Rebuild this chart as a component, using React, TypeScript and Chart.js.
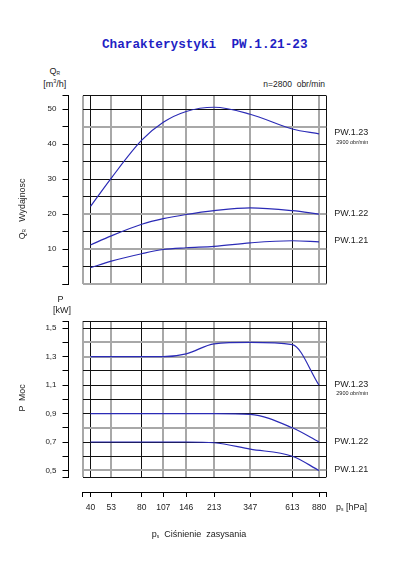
import React, { useEffect, useRef } from 'react';
import { Chart, registerables } from 'chart.js';

Chart.register(...registerables);

// suction pressure p_s [hPa] (log axis)
const pressure = [40, 53, 80, 107, 146, 213, 347, 613, 880];
const pressureMin = 35.9;
const pressureMax = 971;

const seriesNames = ['PW.1.23', 'PW.1.22', 'PW.1.21'];
const seriesNotes = ['2900 obr/min', '', ''];

// Q_R [m3/h]
const qPW123 = [22.2, 30.3, 41.1, 46.2, 49.3, 50.5, 48.5, 44.3, 42.9];
const qPW122 = [11.2, 13.8, 17.1, 18.7, 19.9, 21.0, 21.8, 21.0, 20.0];
const qPW121 = [4.7, 6.6, 8.7, 9.9, 10.4, 10.8, 11.8, 12.4, 12.1];
const qTicks = [0, 5, 10, 15, 20, 25, 30, 35, 40, 45, 50];
const qLabels = [10, 20, 30, 40, 50];
const qMin = 0;
const qMax = 53.8;

// P [kW]
const pPW123 = [1.3, 1.3, 1.3, 1.3, 1.32, 1.39, 1.4, 1.385, 1.1];
const pPW122 = [0.9, 0.9, 0.9, 0.9, 0.9, 0.9, 0.895, 0.8, 0.7];
const pPW121 = [0.7, 0.7, 0.7, 0.7, 0.7, 0.695, 0.65, 0.6, 0.5];
const pTicks = [0.5, 0.6, 0.7, 0.8, 0.9, 1.0, 1.1, 1.2, 1.3, 1.4, 1.5];
const pLabels = [0.5, 0.7, 0.9, 1.1, 1.3, 1.5];
const pMin = 0.454;
const pMax = 1.551;

// grid lines that look light grey (scan look)
const grayX = [pressureMin, 53, 107, 146, 213, 347, 880];
const grayQ = [0, 10, 20, 45];
const grayP = [0.5, 0.8, 1.3, 1.4];

const LINE = '#2b2bb6';
const TEXT = '#222';
const FONT = '"Liberation Sans", Arial, sans-serif';

const near = (a: number, b: number) => Math.abs(a - b) < 1e-6 * Math.max(1, Math.abs(b));
const inList = (v: number, list: number[]) => list.some((x) => near(v, x));

const gridColor = (list: number[]) => (c: any) => (c.tick && inList(c.tick.value, list) ? '#a8a8a8' : '#111');
const gridWidth = (list: number[]) => (c: any) => (c.tick && inList(c.tick.value, list) ? 2 : 1);

const endLabels = {
  id: 'endLabels',
  afterDatasetsDraw(chart: any) {
    const { ctx, chartArea } = chart;
    chart.data.datasets.forEach((ds: any, i: number) => {
      const meta = chart.getDatasetMeta(i);
      const pt = meta.data[meta.data.length - 1];
      if (!pt) return;
      ctx.save();
      ctx.fillStyle = TEXT;
      ctx.textBaseline = 'middle';
      ctx.textAlign = 'left';
      ctx.font = `9px ${FONT}`;
      ctx.fillText(ds.label, chartArea.right + 8, pt.y - 1);
      if (ds.note) {
        ctx.font = `5.5px ${FONT}`;
        ctx.fillText(ds.note, chartArea.right + 10, pt.y + 8.5);
      }
      ctx.restore();
    });
  },
};

interface PanelProps {
  series: number[][];
  yMin: number;
  yMax: number;
  yTicks: number[];
  yLabels: number[];
  yGray: number[];
  decimalComma: boolean;
  withXAxis: boolean;
  padTop: number;
  height: number;
}

const Panel: React.FC<PanelProps> = (p) => {
  const ref = useRef<HTMLCanvasElement | null>(null);

  useEffect(() => {
    if (!ref.current) return;
    const xTickList = [pressureMin, ...pressure, pressureMax];
    const yTickList = [p.yMin, ...p.yTicks, p.yMax];
    const setX = (s: any) => {
      s.ticks = xTickList.map((v) => ({ value: v }));
    };
    const setY = (s: any) => {
      s.ticks = yTickList.map((v) => ({ value: v }));
    };

    const scales: any = {
      x: {
        type: 'logarithmic',
        position: 'bottom',
        weight: 0,
        min: pressureMin,
        max: pressureMax,
        bounds: 'data',
        afterBuildTicks: setX,
        ticks: { display: false, autoSkip: false },
        grid: { drawTicks: false, color: gridColor(grayX), lineWidth: gridWidth(grayX) },
        border: { display: false },
        afterFit: (s: any) => {
          s.height = p.withXAxis ? 15 : 0;
        },
      },
      y: {
        type: 'linear',
        position: 'left',
        weight: 0,
        min: p.yMin,
        max: p.yMax,
        bounds: 'data',
        afterBuildTicks: setY,
        ticks: { display: false, autoSkip: false },
        grid: { drawTicks: false, color: gridColor(p.yGray), lineWidth: gridWidth(p.yGray) },
        border: { display: false },
        afterFit: (s: any) => {
          s.width = 14;
        },
      },
      yAxis: {
        type: 'linear',
        position: 'left',
        weight: 1,
        min: p.yMin,
        max: p.yMax,
        bounds: 'data',
        afterBuildTicks: setY,
        ticks: {
          autoSkip: false,
          padding: 6,
          color: TEXT,
          font: { family: FONT, size: 8 },
          callback: (v: any) => {
            const n = Number(v);
            if (!inList(n, p.yLabels)) return '';
            const s = String(Math.round(n * 10) / 10);
            return p.decimalComma ? s.replace('.', ',') : s;
          },
        },
        grid: { drawOnChartArea: false, drawTicks: true, tickLength: 6, color: '#000', lineWidth: 1 },
        border: { display: true, color: '#000', width: 1 },
        afterFit: (s: any) => {
          s.width = 68.5;
        },
      },
    };

    if (p.withXAxis) {
      scales.xAxis = {
        type: 'logarithmic',
        position: 'bottom',
        weight: 1,
        min: pressureMin,
        max: pressureMax,
        bounds: 'data',
        afterBuildTicks: setX,
        ticks: {
          autoSkip: false,
          maxRotation: 0,
          padding: 6,
          color: TEXT,
          font: { family: FONT, size: 8.5 },
          callback: (v: any) => {
            const n = Number(v);
            return inList(n, pressure) ? String(n) : '';
          },
        },
        grid: { drawOnChartArea: false, drawTicks: true, tickLength: 5, color: '#000', lineWidth: 1 },
        border: { display: true, color: '#000', width: 1 },
        afterFit: (s: any) => {
          s.height = 28;
        },
      };
    }

    const chart = new Chart(ref.current, {
      type: 'line',
      data: {
        datasets: p.series.map((vals, i) => ({
          label: seriesNames[i],
          note: seriesNotes[i],
          data: pressure.map((x, j) => ({ x, y: vals[j] })),
          borderColor: LINE,
          borderWidth: 1.2,
          pointRadius: 0,
          fill: false,
          cubicInterpolationMode: 'monotone',
        })) as any,
      },
      options: {
        responsive: false,
        animation: false,
        layout: { padding: { top: p.padTop, right: 73.7, bottom: p.withXAxis ? 0 : 8, left: 0 } },
        plugins: { legend: { display: false }, tooltip: { enabled: false } },
        scales,
      },
      plugins: [endLabels],
    });

    return () => {
      chart.destroy();
    };
  }, []);

  return <canvas ref={ref} width={400} height={p.height} style={{ width: 400, height: p.height, display: 'block' }} />;
};

const Txt: React.FC<{ x: number; y: number; size: number; align?: 'left' | 'center' | 'right'; style?: React.CSSProperties; children: React.ReactNode }> = ({ x, y, size, align = 'left', style, children }) => {
  const tx = align === 'center' ? '-50%' : align === 'right' ? '-100%' : '0';
  return (
    <div
      style={{
        position: 'absolute',
        left: x,
        top: y,
        transform: `translate(${tx}, -50%)`,
        fontSize: size,
        lineHeight: 1,
        whiteSpace: 'pre',
        ...style,
      }}
    >
      {children}
    </div>
  );
};

const sub = (s: string) => <sub style={{ fontSize: '0.55em', verticalAlign: 'baseline', position: 'relative', top: '0.15em' }}>{s}</sub>;

const App: React.FC = () => {
  return (
    <div
      style={{
        position: 'absolute',
        left: 0,
        top: 0,
        width: 400,
        height: 567,
        background: '#fff',
        fontFamily: FONT,
        color: TEXT,
        overflow: 'hidden',
      }}
    >
      <Txt x={204.8} y={45} size={12.7} align="center" style={{ fontFamily: '"Liberation Mono", monospace', fontWeight: 'bold', color: '#1f1fc4' }}>
        Charakterystyki  PW.1.21-23
      </Txt>

      <Txt x={49.5} y={71} size={9}>
        Q{sub('R')}
      </Txt>
      <Txt x={43.3} y={84.3} size={9}>
        [m<sup style={{ fontSize: '0.6em' }}>3</sup>/h]
      </Txt>
      <Txt x={325} y={84} size={8.5} align="right">
        n=2800  obr/min
      </Txt>

      <div style={{ position: 'absolute', left: 0, top: 55 }}>
        <Panel
          series={[qPW123, qPW122, qPW121]}
          yMin={qMin}
          yMax={qMax}
          yTicks={qTicks}
          yLabels={qLabels}
          yGray={grayQ}
          decimalComma={false}
          withXAxis={false}
          padTop={40.7}
          height={240}
        />
      </div>

      <Txt x={57.5} y={299} size={9}>
        P
      </Txt>
      <Txt x={53} y={310} size={9}>
        [kW]
      </Txt>

      <div style={{ position: 'absolute', left: 0, top: 300 }}>
        <Panel
          series={[pPW123, pPW122, pPW121]}
          yMin={pMin}
          yMax={pMax}
          yTicks={pTicks}
          yLabels={pLabels}
          yGray={grayP}
          decimalComma={true}
          withXAxis={true}
          padTop={21}
          height={220}
        />
      </div>

      <div
        style={{
          position: 'absolute',
          left: 22,
          top: 209,
          transform: 'translate(-50%, -50%) rotate(-90deg)',
          fontSize: 8.8,
          lineHeight: 1,
          whiteSpace: 'pre',
        }}
      >
        Q{sub('R')}   Wydajnosc
      </div>
      <div
        style={{
          position: 'absolute',
          left: 22,
          top: 398,
          transform: 'translate(-50%, -50%) rotate(-90deg)',
          fontSize: 8.8,
          lineHeight: 1,
          whiteSpace: 'pre',
        }}
      >
        P  Moc
      </div>

      <Txt x={336} y={507} size={9}>
        p{sub('s')} [hPa]
      </Txt>
      <Txt x={151.7} y={534} size={9}>
        p{sub('s')}  Ciśnienie  zasysania
      </Txt>
    </div>
  );
};

export default App;
